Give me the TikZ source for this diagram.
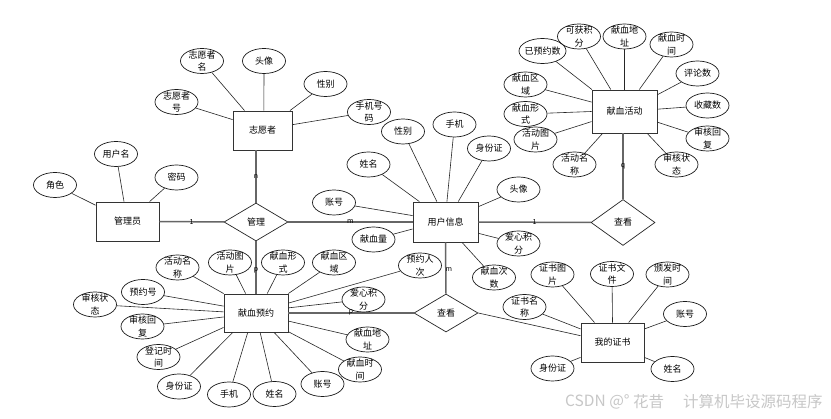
\documentclass[tikz,border=0pt]{standalone}
\usepackage{fontspec}
\setmainfont{Noto Sans CJK SC}
\usetikzlibrary{shapes.geometric}
\newcommand{\tx}[1]{\makebox[0pt]{\smash{\raisebox{-3.2pt}{\begin{tabular}[c]{@{}c@{}}#1\end{tabular}}}}}
\tikzset{
  base/.style={font=\fontsize{9}{12.5}\selectfont, inner sep=0pt},
  ent/.style={base, draw=black!80, line width=0.9pt, rectangle, minimum width=64pt, minimum height=39pt},
  rel/.style={base, draw=black!85, line width=0.7pt, diamond, minimum width=64pt, minimum height=38pt},
  attr/.style={base, draw=black!90, line width=0.7pt, ellipse, minimum width=43pt, minimum height=25pt},
  aline/.style={draw=black!85, line width=0.6pt},
  rline/.style={draw=black!60, line width=1.5pt},
  card/.style={font=\fontsize{7}{8}\selectfont, inner sep=0pt},
  wm/.style={font=\fontsize{15.5}{18}\selectfont, text=black!22, inner sep=0pt, anchor=west},
}
\begin{document}
\begin{tikzpicture}[x=1pt,y=-1pt]
\useasboundingbox[fill=white] (0,0) rectangle (831,419);

% entities
\node[ent, minimum width=59pt] (vol) at (262.5,130.5) {志愿者};
\node[ent, minimum width=63pt] (adm) at (127.5,221.5) {管理员};
\node[ent, minimum width=65pt, minimum height=40pt] (user) at (445.5,222) {用户信息};
\node[ent, minimum width=65pt, minimum height=43pt] (act) at (624.5,111.5) {献血活动};
\node[ent, minimum height=38pt] (resv) at (256,313) {献血预约};
\node[ent, minimum width=63pt] (cert) at (612.5,342.5) {我的证书};

% relationships
\node[rel] (mgr) at (256,222) {管理};
\node[rel, minimum height=46pt] (see1) at (623,222.5) {查看};
\node[rel] (see2) at (446,313) {查看};

% relationship connectors
\draw[rline] (adm) -- node[card]{1} (mgr);
\draw[rline] (mgr) -- node[card]{m} (user);
\draw[rline] (user) -- node[card]{1} (see1);
\draw[rline] (see1.north) -- node[card]{q} (see1.north |- act.south);
\draw[rline] (mgr.north) -- node[card]{n} (mgr.north |- vol.south);
\draw[rline] (mgr.south) -- node[card, pos=0.55]{p} (mgr.south |- resv.north);
\draw[rline] (user.south) -- node[card, pos=0.52, xshift=3pt]{m} (see2.north);
\draw[rline] (resv) -- node[card, yshift=1pt]{p} (see2);
\draw[aline] (see2.east) -- (cert.168);

% volunteer attributes
\node[attr] (v1) at (202,61) {\tx{志愿者\\名}};
\node[attr] (v2) at (264,61) {\tx{头像}};
\node[attr] (v3) at (325.5,84) {\tx{性别}};
\node[attr] (v4) at (369,112) {\tx{手机号\\码}};
\node[attr] (v5) at (176.5,102) {\tx{志愿者\\号}};

% admin attributes
\node[attr] (a1) at (116,154) {\tx{用户名}};
\node[attr] (a2) at (176.5,177.5) {\tx{密码}};
\node[attr] (a3) at (55,185) {\tx{角色}};

% user attributes
\node[attr] (u1) at (403,131.5) {\tx{性别}};
\node[attr] (u2) at (454.5,124.5) {\tx{手机}};
\node[attr] (u3) at (489,148.5) {\tx{身份证}};
\node[attr] (u4) at (368.5,164.5) {\tx{姓名}};
\node[attr] (u5) at (334,202.5) {\tx{账号}};
\node[attr] (u6) at (518.5,189.5) {\tx{头像}};
\node[attr] (u7) at (373.5,239.5) {\tx{献血量}};
\node[attr] (u8) at (518.5,243.5) {\tx{爱心积\\分}};
\node[attr] (u9) at (494,277.5) {\tx{献血次\\数}};

% activity attributes
\node[attr] (t1) at (579,36.5) {\tx{可获积\\分}};
\node[attr] (t2) at (624.5,36.5) {\tx{献血地\\址}};
\node[attr] (t3) at (671.5,44.5) {\tx{献血时\\间}};
\node[attr] (t4) at (697.5,73.5) {\tx{评论数}};
\node[attr] (t5) at (707.5,105.5) {\tx{收藏数}};
\node[attr] (t6) at (707.5,138.5) {\tx{审核回\\复}};
\node[attr] (t7) at (676.5,164.5) {\tx{审核状\\态}};
\node[attr] (t8) at (574.5,164.5) {\tx{活动名\\称}};
\node[attr, minimum width=47pt] (t9) at (542.5,51) {\tx{已预约数}};
\node[attr] (t10) at (525.5,84.5) {\tx{献血区\\域}};
\node[attr] (t11) at (525.5,114) {\tx{献血形\\式}};
\node[attr] (t12) at (535.5,139.5) {\tx{活动图\\片}};

% reservation attributes
\node[attr] (r1) at (177.5,267.5) {\tx{活动名\\称}};
\node[attr] (r2) at (230,262.5) {\tx{活动图\\片}};
\node[attr] (r3) at (283,262.5) {\tx{献血形\\式}};
\node[attr] (r4) at (334,262.5) {\tx{献血区\\域}};
\node[attr] (r5) at (420,265.5) {\tx{预约人\\次}};
\node[attr] (r6) at (363.5,299.5) {\tx{爱心积\\分}};
\node[attr] (r7) at (367.5,339.5) {\tx{献血地\\址}};
\node[attr] (r8) at (360,369.5) {\tx{献血时\\间}};
\node[attr] (r9) at (322.5,384) {\tx{账号}};
\node[attr] (r10) at (274.5,394) {\tx{姓名}};
\node[attr] (r11) at (229,394.5) {\tx{手机}};
\node[attr] (r12) at (179,386.5) {\tx{身份证}};
\node[attr] (r13) at (158.5,357) {\tx{登记时\\间}};
\node[attr] (r14) at (142.5,326.5) {\tx{审核回\\复}};
\node[attr] (r15) at (95,304.5) {\tx{审核状\\态}};
\node[attr] (r16) at (143,292) {\tx{预约号}};

% certificate attributes
\node[attr] (c1) at (552.5,274.5) {\tx{证书图\\片}};
\node[attr] (c2) at (612,274) {\tx{证书文\\件}};
\node[attr] (c3) at (667.5,274.5) {\tx{颁发时\\间}};
\node[attr] (c4) at (685,314) {\tx{账号}};
\node[attr] (c5) at (672.5,369) {\tx{姓名}};
\node[attr] (c6) at (552.5,368.5) {\tx{身份证}};
\node[attr] (c7) at (524.5,307) {\tx{证书名\\称}};

% attribute connectors
\foreach \a/\e/\g in {v1/vol/132, v2/vol/86, v3/vol/36, v4/vol/11, v5/vol/160,
  a1/adm/100, a2/adm/42, a3/adm/153,
  u1/user/113, u2/user/86, u3/user/58, u4/user/142, u5/user/169.5, u6/user/25,
  u7/user/192, u8/user/341, u9/user/309.5,
  t1/act/122, t2/act/90, t3/act/56, t4/act/27, t5/act/4, t6/act/342, t7/act/316,
  t8/act/225, t9/act/146, t10/act/164, t11/act/180, t12/act/197,
  r1/resv/149, r2/resv/118, r3/resv/60, r4/resv/31, r5/resv/17, r6/resv/9,
  r7/resv/346, r8/resv/330, r9/resv/313, r10/resv/282, r11/resv/247, r12/resv/220,
  r13/resv/204, r14/resv/187, r15/resv/178, r16/resv/168,
  c1/cert/132, c2/cert/90, c3/cert/51, c4/cert/23, c5/cert/335, c6/cert/205, c7/cert/157}
  \draw[aline] (\a) -- (\e.\g);

% watermark
\node[wm] (w1) at (565,402) {CSDN @°};
\node[wm] (w2) at (633,402) {花昔};
\node[wm] (w3) at (683,402) {计算机毕设源码程序};
\end{tikzpicture}
\end{document}
